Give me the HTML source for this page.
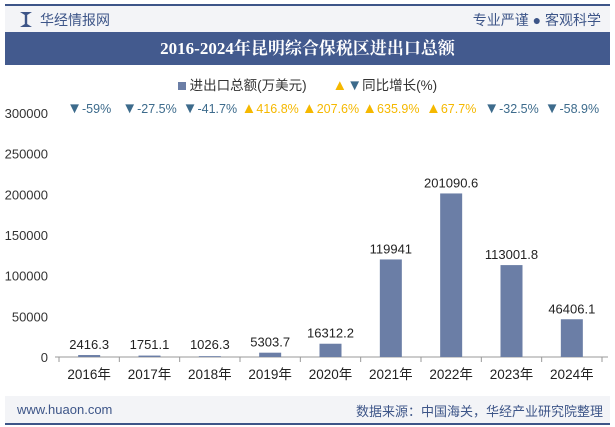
<!DOCTYPE html>
<html><head><meta charset="utf-8"><style>
body{margin:0;width:615px;height:427px;background:#fff;font-family:"Liberation Sans","Noto Sans CJK SC",sans-serif;overflow:hidden;position:relative}
.abs{position:absolute}
</style></head><body>
<div class="abs" style="left:5px;top:4px;width:605px;height:2px;background:#3d5588"></div>
<div class="abs" style="left:5px;top:6px;width:605px;height:26px;background:#f3f4f7"></div>
<div class="abs" style="left:20px;top:12px;width:12px;height:15px;background:#3d5588;clip-path:polygon(0 0,40% 20%,40% 80%,0 100%,100% 100%,60% 80%,60% 20%,100% 0)"></div>
<div class="abs" style="left:40px;top:10px;font-size:14px;color:#3d5588">华经情报网</div>
<div class="abs" style="right:14px;top:10px;font-size:14px;color:#3d5588">专业严谨 ● 客观科学</div>
<div class="abs" style="left:5px;top:32px;width:605px;height:33px;background:#435a8e;color:#fff;font-family:'Liberation Serif','Noto Serif CJK SC',serif;font-weight:bold;font-size:17px;line-height:33px;text-align:center">2016-2024年昆明综合保税区进出口总额</div>
<div class="abs" style="left:0;width:615px;top:74px;text-align:center;font-size:13.5px;color:#333">
<span><span style="display:inline-block;width:8px;height:8px;background:#6b7ea6"></span> 进出口总额(万美元)</span>
<span style="margin-left:22px"><span style="color:#f5b800;font-size:15px">▲</span><span style="color:#3d6b8c;font-size:15px">▼</span>同比增长(%)</span></div>
<div class="abs" style="left:5px;top:396px;width:605px;height:27px;background:#f3f4f7"></div>
<div class="abs" style="left:5px;top:423px;width:605px;height:2px;background:#3d5588"></div>
<div class="abs" style="left:17px;top:402px;font-size:13px;color:#3d5588">www.huaon.com</div>
<div class="abs" style="right:12px;top:401px;font-size:13px;color:#3d5588">数据来源：中国海关，华经产业研究院整理</div>
<svg class="abs" style="left:0;top:0" width="615" height="427" id="chart"></svg>
<script>
const categories=["2016年","2017年","2018年","2019年","2020年","2021年","2022年","2023年","2024年"];
const values=[2416.3,1751.1,1026.3,5303.7,16312.2,119941,201090.6,113001.8,46406.1];
const valueLabels=["2416.3","1751.1","1026.3","5303.7","16312.2","119941","201090.6","113001.8","46406.1"];
const growth=[-59,-27.5,-41.7,416.8,207.6,635.9,67.7,-32.5,-58.9];
const yTicks=[0,50000,100000,150000,200000,250000,300000];
const svg=document.getElementById('chart');const NS='http://www.w3.org/2000/svg';
const x0=59,x1=602,y0=357,yTop=113,yMax=300000;
const band=(x1-x0)/categories.length;
const xc=i=>x0+band*(i+0.5);
const y=v=>y0-(v/yMax)*(y0-yTop);
function mk(t,a,txt,p){const e=document.createElementNS(NS,t);for(const k in a)e.setAttribute(k,a[k]);if(txt!=null)e.textContent=txt;(p||svg).appendChild(e);return e;}
const ax=mk('line',{x1:x0-4,x2:x1+6,y1:y0,y2:y0,stroke:'#999'});

yTicks.forEach(t=>{const e=mk('text',{x:48,y:y(t)+5,'text-anchor':'end','font-size':13,fill:'#333'},String(t));
});
for(let i=0;i<=categories.length;i++){const e=mk('line',{x1:x0+band*i,x2:x0+band*i,y1:y0,y2:y0+5,stroke:'#999'});
}
categories.forEach((c,i)=>{
const b=mk('rect',{x:xc(i)-11,y:y(values[i]),width:22,height:y0-y(values[i]),fill:'#6b7ea6'});

const vl=mk('text',{x:xc(i),y:Math.min(y(values[i])-6,y0-8),'text-anchor':'middle','font-size':13,fill:'#222'},valueLabels[i]);

const cl=mk('text',{x:xc(i),y:y0+22,'text-anchor':'middle','font-size':13.5,fill:'#222'},c);

const up=growth[i]>=0;
const g=mk('text',{x:xc(i),y:113,'text-anchor':'middle','font-size':12.5,fill:up?'#f5b800':'#3d6b8c'});

mk('tspan',{'font-size':15},up?'▲':'▼',g);
mk('tspan',{},growth[i]+'%',g);
});
</script>
</body></html>
